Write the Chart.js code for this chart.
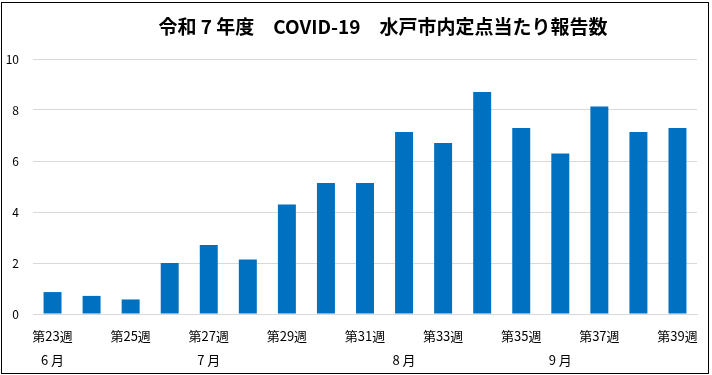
<!DOCTYPE html>
<html>
<head>
<meta charset="utf-8">
<script src="https://cdn.jsdelivr.net/npm/chart.js@4"></script>
<style>
  html, body { margin: 0; padding: 0; background: #fff; }
  #wrap { position: relative; width: 712px; height: 375px; }
  #frame { position: absolute; left: 1px; top: 2px; width: 706px; height: 370px; border: 1.5px solid #000; pointer-events: none; }
</style>
</head>
<body>
<div id="wrap">
  <canvas id="chart" width="712" height="375"></canvas>
  <div id="frame"></div>
</div>
<script>
const weeks = ["第23週", "第24週", "第25週", "第26週", "第27週", "第28週", "第29週", "第30週", "第31週",
  "第32週", "第33週", "第34週", "第35週", "第36週", "第37週", "第38週", "第39週"];
const months = ["6 月", "", "", "", "7 月", "", "", "", "", "8 月", "", "", "", "9 月", "", "", ""];
const reports = [0.86, 0.71, 0.57, 2.0, 2.71, 2.14, 4.29, 5.14, 5.14, 7.14, 6.71, 8.71, 7.29, 6.29, 8.14, 7.14, 7.29];
const yTicks = [0, 2, 4, 6, 8, 10];
const title = "令和 7 年度　COVID-19　水戸市内定点当たり報告数";

const font = "'Noto Sans CJK JP', 'Liberation Sans', sans-serif";

// title drawn by hand so it can sit a bit right of centre like the original
const titlePlugin = {
  id: "titleText",
  afterDraw(chart) {
    const c = chart.ctx;
    c.save();
    c.font = "bold 19px " + font;
    c.fillStyle = "#000";
    c.textAlign = "center";
    c.textBaseline = "middle";
    c.fillText(title, 383, 27);
    c.restore();
  },
};

const ctx = document.getElementById("chart").getContext("2d");
new Chart(ctx, {
  type: "bar",
  data: {
    labels: weeks,
    datasets: [
      {
        label: "定点当たり報告数",
        data: reports,
        backgroundColor: "#0070c0",
        categoryPercentage: 1,
        barPercentage: 0.46,
      },
    ],
  },
  options: {
    responsive: false,
    animation: false,
    layout: {
      padding: { left: 4, right: 15, top: 59, bottom: 4 },
    },
    plugins: {
      legend: { display: false },
      tooltip: { enabled: false },
      title: { display: false },
    },
    scales: {
      x: {
        grid: { display: false },
        border: { color: "#d9d9d9" },
        afterFit: (axis) => {
          axis.height = 57;
        },
        ticks: {
          autoSkip: false,
          maxRotation: 0,
          color: "#000",
          padding: 2,
          font: { family: font, size: 13, lineHeight: 24 / 13 },
          callback: (v, i) => [i % 2 === 0 ? weeks[i] : "", months[i]],
        },
      },
      y: {
        min: 0,
        max: 10,
        afterBuildTicks: (axis) => {
          axis.ticks = yTicks.map((v) => ({ value: v }));
        },
        afterFit: (axis) => {
          axis.width = 29;
        },
        grid: { color: "#d9d9d9", drawTicks: false },
        border: { display: false },
        ticks: {
          color: "#000",
          padding: 14,
          font: { family: font, size: 12 },
        },
      },
    },
  },
  plugins: [titlePlugin],
});
</script>
</body>
</html>
